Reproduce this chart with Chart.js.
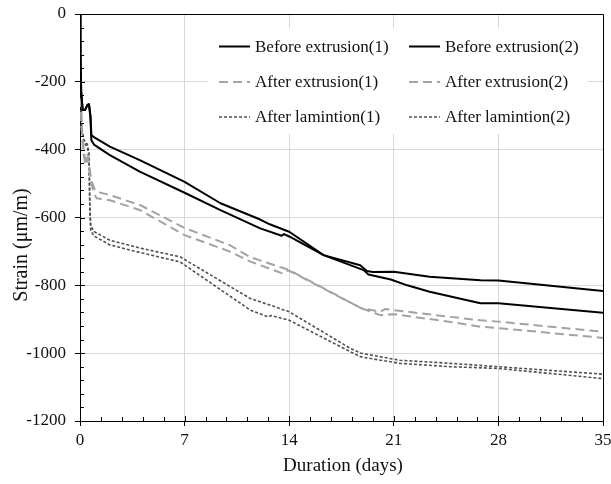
<!DOCTYPE html>
<html lang="en">
<head>
    <meta charset="UTF-8">
    <title>Strain vs duration</title>
    <script src="https://cdn.jsdelivr.net/npm/chart.js"></script>
    <style>
        html, body { margin: 0; padding: 0; background: #fff; }
        .chart-box { width: 611px; height: 484px; position: relative; }
    </style>
</head>
<body>
<div class="chart-box"><canvas id="strainChart"></canvas></div>

<script>
    // Shrinkage strain readings (days, µm/m) for each specimen
    const beforeDays1 = [0, 0.03, 0.08, 0.18, 0.35, 0.5, 0.6, 0.7, 0.76, 0.96, 2, 4, 7, 9.4, 12.06, 12.7, 14, 16.3, 18.98, 19.3, 20.8, 21.9, 23.4, 26.8, 28, 35];
    const beforeStrain1 = [0, -120, -230, -283, -282, -268, -266, -300, -357, -364, -391, -431, -495, -558, -606, -620, -642, -711, -755, -768, -783, -800, -819, -853, -853, -881];

    const beforeDays2 = [0, 0.03, 0.08, 0.18, 0.35, 0.5, 0.6, 0.7, 0.76, 0.96, 2, 4, 7, 9.4, 12.06, 13.5, 13.65, 14, 16.3, 18.75, 19.2, 19.6, 21, 23.4, 26.8, 28, 35];
    const beforeStrain2 = [0, -120, -230, -283, -282, -268, -266, -305, -372, -386, -416, -465, -527, -578, -632, -654, -649, -656, -711, -741, -758, -761, -760, -775, -785, -786, -817];

    const afterDays1 = [0, 0.03, 0.1, 0.2, 0.35, 0.5, 0.6, 0.75, 0.96, 1.1, 2, 4, 7, 10, 11.4, 13.6, 14, 18.8, 20.1, 20.4, 21, 24.8, 26.8, 28, 35];
    const afterStrain1 = [0, -150, -330, -380, -430, -410, -440, -490, -515, -524, -534, -563, -631, -681, -717, -749, -755, -867, -878, -870, -873, -893, -903, -907, -937];

    const afterDays2 = [0, 0.03, 0.1, 0.2, 0.35, 0.5, 0.6, 0.75, 0.96, 1.1, 2, 4, 7, 10, 11.4, 13.5, 13.7, 14, 18.8, 20.1, 21, 24.8, 26.8, 28, 35];
    const afterStrain2 = [0, -150, -330, -400, -445, -425, -450, -500, -530, -543, -549, -578, -652, -700, -730, -764, -757, -757, -867, -888, -885, -908, -922, -926, -955];

    const lamDays1 = [0, 0.03, 0.1, 0.25, 0.5, 0.6, 0.66, 0.72, 0.96, 2, 4, 6.7, 11.4, 12.7, 14, 18.1, 18.8, 21.4, 24.8, 28, 35];
    const lamStrain1 = [0, -150, -330, -370, -385, -410, -560, -625, -642, -667, -690, -716, -839, -858, -878, -986, -1000, -1021, -1030, -1040, -1062];

    const lamDays2 = [0, 0.03, 0.1, 0.25, 0.5, 0.6, 0.66, 0.72, 0.96, 2, 4, 6.7, 11.4, 12.6, 12.8, 14, 18.1, 18.8, 21.4, 24.8, 28, 35];
    const lamStrain2 = [0, -150, -330, -375, -395, -420, -580, -640, -655, -681, -703, -731, -873, -893, -889, -903, -996, -1011, -1030, -1040, -1045, -1075];

    const seriesLabels = [
        'Before extrusion(1)', 'Before extrusion(2)',
        'After extrusion(1)', 'After extrusion(2)',
        'After lamintion(1)', 'After lamintion(2)'
    ];
    const xTicks = [0, 7, 14, 21, 28, 35];
    const yTicks = [0, -200, -400, -600, -800, -1000, -1200];
    const xMinorStep = 1.4;
    const yMinorStep = 40;

    const serif = '"Liberation Serif", "Times New Roman", serif';

    function toPoints(days, strain) {
        return days.map((d, i) => ({ x: d, y: strain[i] }));
    }

    const solid = { borderColor: '#000000', borderWidth: 2, borderDash: [] };
    const dashed = { borderColor: '#a3a3a3', borderWidth: 2, borderDash: [9, 5] };
    const dotted = { borderColor: '#505050', borderWidth: 1.6, borderDash: [3, 2] };

    const datasets = [
        { label: seriesLabels[0], data: toPoints(beforeDays1, beforeStrain1), ...solid },
        { label: seriesLabels[1], data: toPoints(beforeDays2, beforeStrain2), ...solid },
        { label: seriesLabels[2], data: toPoints(afterDays1, afterStrain1), ...dashed },
        { label: seriesLabels[3], data: toPoints(afterDays2, afterStrain2), ...dashed },
        { label: seriesLabels[4], data: toPoints(lamDays1, lamStrain1), ...dotted },
        { label: seriesLabels[5], data: toPoints(lamDays2, lamStrain2), ...dotted }
    ].map(ds => Object.assign(ds, { pointRadius: 0, tension: 0, fill: false, borderJoinStyle: 'round' }));

    // frame, inner tick marks, axis titles and the boxed legend
    const plotExtras = {
        id: 'plotExtras',
        afterDraw(chart) {
            const { ctx, chartArea: a, scales: { x, y } } = chart;
            ctx.save();

            ctx.strokeStyle = '#000';
            ctx.lineWidth = 1;
            ctx.beginPath();
            ctx.moveTo(a.left, a.top + 0.5);
            ctx.lineTo(a.right + 0.5, a.top + 0.5);
            ctx.lineTo(a.right + 0.5, a.bottom);
            ctx.stroke();

            // tick marks pointing into the plot
            ctx.beginPath();
            const nx = Math.round((xTicks[xTicks.length - 1] - xTicks[0]) / xMinorStep);
            for (let i = 1; i < nx; i++) {
                const px = Math.round(x.getPixelForValue(xTicks[0] + i * xMinorStep)) + 0.5;
                const len = i % 5 === 0 ? 5 : 4;
                ctx.moveTo(px, a.bottom);
                ctx.lineTo(px, a.bottom - len);
            }
            const ny = Math.round((yTicks[0] - yTicks[yTicks.length - 1]) / yMinorStep);
            for (let i = 1; i < ny; i++) {
                const py = Math.round(y.getPixelForValue(yTicks[0] - i * yMinorStep)) + 0.5;
                const len = i % 5 === 0 ? 5 : 4;
                ctx.moveTo(a.left, py);
                ctx.lineTo(a.left + len, py);
            }
            ctx.stroke();

            // axis titles
            ctx.fillStyle = '#111';
            ctx.textAlign = 'center';
            ctx.textBaseline = 'middle';
            ctx.font = '19px ' + serif;
            ctx.fillText('Duration (days)', 343, 466);
            ctx.save();
            ctx.translate(22, 245);
            ctx.rotate(-Math.PI / 2);
            ctx.font = '20px ' + serif;
            ctx.fillText('Strain (\u03bcm/m)', 0, 0);
            ctx.restore();

            // legend: two columns, three rows
            ctx.fillStyle = '#fff';
            ctx.fillRect(208, 28, 380, 106);
            const colX = [219, 409];
            const rowY = [46.5, 82, 117];
            ctx.font = '17px ' + serif;
            ctx.textAlign = 'left';
            chart.data.datasets.forEach((ds, i) => {
                const cx = colX[i % 2];
                const cy = rowY[Math.floor(i / 2)];
                ctx.strokeStyle = ds.borderColor;
                ctx.lineWidth = ds.borderWidth;
                ctx.setLineDash(ds.borderDash);
                ctx.beginPath();
                ctx.moveTo(cx, cy);
                ctx.lineTo(cx + 31, cy);
                ctx.stroke();
                ctx.setLineDash([]);
                ctx.fillStyle = '#111';
                ctx.fillText(ds.label, cx + 36, cy + 1);
            });

            ctx.restore();
        }
    };

    new Chart(document.getElementById('strainChart'), {
        type: 'line',
        data: { datasets: datasets },
        options: {
            responsive: true,
            maintainAspectRatio: false,
            animation: false,
            layout: { padding: { top: 14, right: 8, left: 0, bottom: 0 } },
            plugins: {
                legend: { display: false },
                tooltip: { enabled: false }
            },
            scales: {
                x: {
                    type: 'linear',
                    min: xTicks[0],
                    max: xTicks[xTicks.length - 1],
                    afterFit: s => { s.height = 63; s.paddingLeft = 0; s.paddingRight = 0; },
                    afterBuildTicks: s => { s.ticks = xTicks.map(v => ({ value: v })); },
                    ticks: {
                        color: '#111', font: { family: serif, size: 17 }, padding: 4, maxRotation: 0,
                        callback: v => String(v)
                    },
                    grid: { color: '#d9d9d9', tickColor: '#000', tickLength: 5 },
                    border: { color: '#000', width: 1 }
                },
                y: {
                    type: 'linear',
                    min: yTicks[yTicks.length - 1],
                    max: yTicks[0],
                    afterFit: s => { s.width = 80; s.paddingTop = 0; s.paddingBottom = 0; },
                    afterBuildTicks: s => { s.ticks = yTicks.map(v => ({ value: v })); },
                    ticks: {
                        color: '#111', font: { family: serif, size: 17 }, padding: 9,
                        callback: v => String(v)
                    },
                    grid: { color: '#d9d9d9', tickColor: '#000', tickLength: 5 },
                    border: { color: '#000', width: 1 }
                }
            }
        },
        plugins: [plotExtras]
    });
</script>
</body>
</html>
